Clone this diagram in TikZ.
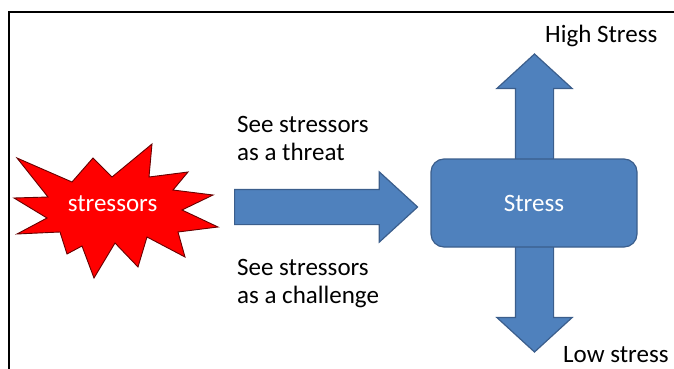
\documentclass[tikz,border=0pt]{standalone}
\usepackage{fontspec}
\setmainfont{Carlito}
\usetikzlibrary{shapes.arrows}
\definecolor{officeblue}{HTML}{4F81BD}
\definecolor{officeline}{HTML}{3B5E8C}
\tikzset{
    labeltext/.style={font=\fontsize{25}{28}\selectfont, inner sep=0pt},
    blockarrow/.style={fill=officeblue, draw=officeline, line width=1.2pt, inner xsep=0pt},
}
\begin{document}
\begin{tikzpicture}[x=1pt, y=-1pt]
    \useasboundingbox (0, 0) rectangle (674, 369);
    \draw[line width=2pt] (674, 12) -- (8.5, 12) -- (8.5, 369);
    % the burst
    \filldraw[fill=red, draw=black!60!red, line width=0.9pt]
        (17,158) -- (72,182) -- (93,158) -- (112,177) -- (152,144) -- (149,177)
        -- (188,172) -- (173,190) -- (213,195) -- (182,210) -- (218,227) -- (178,232)
        -- (185,257) -- (147,237) -- (138,267) -- (115,243) -- (94,278) -- (82,246)
        -- (67,254) -- (60,232) -- (17,234) -- (47,218) -- (14,198) -- (48,197) -- cycle;
    \node[labeltext, text=white, anchor=base] (stressors) at (112.5, 211) {stressors};
    % up and down arrow behind the box
    \node[blockarrow, double arrow, rotate=90, minimum height=298, inner ysep=18.5pt,
        double arrow head extend=18.5pt, double arrow tip angle=95] (updown) at (534.5, 203) {};
    \node[blockarrow, rounded corners=13pt, minimum width=206, minimum height=88,
        labeltext, text=white] (stress) at (534, 203) {Stress};
    % arrow into the box
    \node[blockarrow, single arrow, anchor=tail, minimum height=183, inner ysep=17pt,
        single arrow head extend=17.5pt, single arrow tip angle=85] (toward) at (234, 207) {};
    \node[labeltext, anchor=base west, align=left] (threat) at (237, 160) {See stressors\\as a threat};
    \node[labeltext, anchor=base west, align=left] (challenge) at (237, 303) {See stressors\\as a challenge};
    \node[labeltext, anchor=base west] (high) at (545, 43) {High Stress};
    \node[labeltext, anchor=base west] (low) at (563, 362) {Low stress};
\end{tikzpicture}
\end{document}
